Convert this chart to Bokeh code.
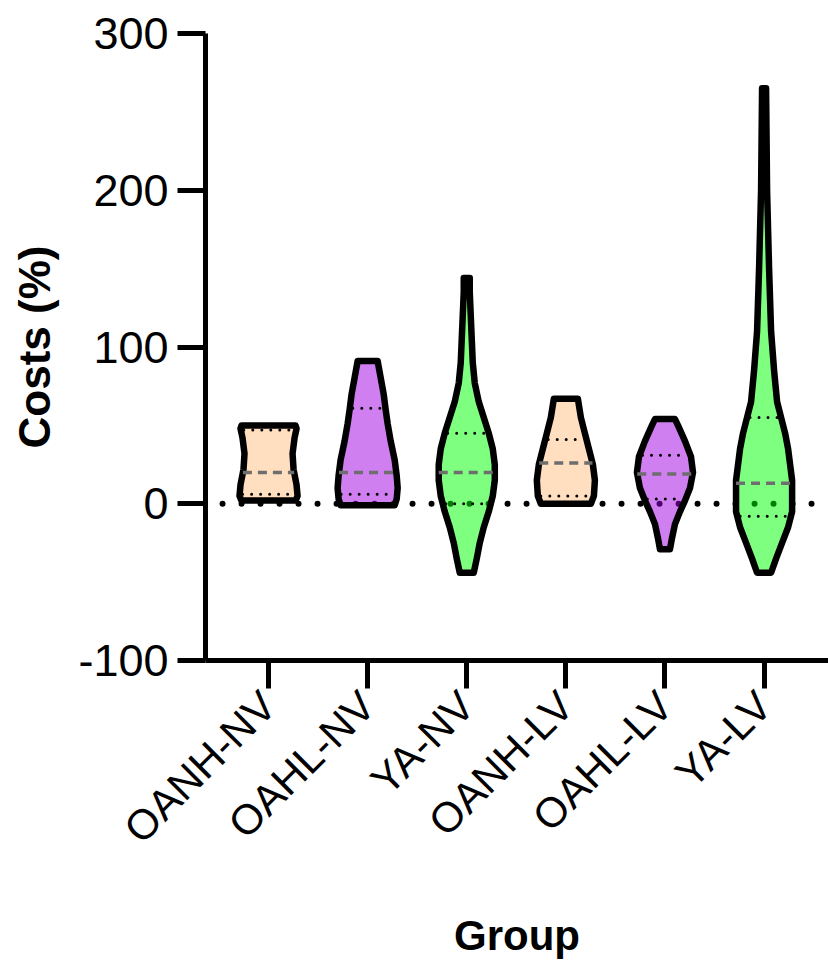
import math
import numpy as np
from bokeh.plotting import figure
from bokeh.models import Range1d, FixedTicker
from bokeh.embed import file_html
from bokeh.resources import INLINE

# ---------------- data ----------------
groups = ["OANH-NV", "OAHL-NV", "YA-NV", "OANH-LV", "OAHL-LV", "YA-LV"]
y_ticks = [-100, 0, 100, 200, 300]
y_tick_labels = ["-100", "0", "100", "200", "300"]

# violin outlines: value levels and half-widths (px of a 99px category slot)
oanh_nv_y = [2, 5, 12, 22, 32, 42, 48, 50]
oanh_nv_w = [27, 29, 28, 25, 24, 26, 28, 27]
oahl_nv_y = [-1, 3, 10, 18, 28, 40, 51, 60, 70, 77, 84, 91]
oahl_nv_w = [27, 29, 30, 29, 27, 23, 20, 18, 16, 14, 12, 10]
ya_nv_y = [-44, -35, -25, -15, -5, 5, 15, 25, 35, 45, 55, 65, 77, 90, 105, 120, 135, 144]
ya_nv_w = [7, 10, 13, 17, 22, 26, 28, 28, 26, 22, 17, 12, 8, 6, 5, 4, 3, 3]
oanh_lv_y = [0, 5, 15, 25, 35, 45, 55, 67]
oanh_lv_w = [25, 28, 29, 27, 23, 19, 15, 12]
oahl_lv_y = [-29, -22, -13, -5, 2, 10, 20, 30, 40, 50, 54]
oahl_lv_w = [5, 7, 10, 15, 20, 25, 28, 26, 20, 13, 10]
ya_lv_y = [-44, -35, -25, -15, -5, 5, 15, 25, 35, 45, 55, 65, 85, 110, 150, 200, 265]
ya_lv_w = [7, 12, 18, 24, 28, 28, 28, 26, 24, 21, 17, 13, 10, 7, 5, 3, 2]

medians = [20, 20, 20, 26, 19, 13]
q1 = [6, 6, 0, 5, 3, -8]
q3 = [47, 61, 45, 41, 31, 55]

profiles_y = [oanh_nv_y, oahl_nv_y, ya_nv_y, oanh_lv_y, oahl_lv_y, ya_lv_y]
profiles_w = [oanh_nv_w, oahl_nv_w, ya_nv_w, oanh_lv_w, oahl_lv_w, ya_lv_w]
fill_colors = ["#FFC080", "#A000E0", "#00FF00", "#FFC080", "#A000E0", "#00FF00"]

# ---------------- figure ----------------
SLOT = 99.0  # px per category
X0, X1 = 0.364, 6.65
p = figure(width=828, height=965, output_backend="svg", toolbar_location=None,
           x_range=Range1d(X0, X1), y_range=Range1d(-100, 300),
           min_border_left=205, min_border_top=33, min_border_bottom=305,
           min_border_right=0)
p.outline_line_color = None
p.xgrid.visible = False
p.ygrid.visible = False
p.background_fill_color = "white"

FONT = "Liberation Sans"
ticks_x = list(range(1, len(groups) + 1))

for ax in (p.xaxis[0], p.yaxis[0]):
    ax.axis_line_width = 5
    ax.axis_line_color = "black"
    ax.major_tick_line_width = 5
    ax.major_tick_line_color = "black"
    ax.major_tick_out = 28
    ax.major_tick_in = 0
    ax.minor_tick_line_color = None
    ax.major_label_text_font = FONT
    ax.major_label_text_font_size = "45px"
    ax.major_label_text_color = "black"
    ax.major_label_standoff = 9
    ax.axis_label_text_font = FONT
    ax.axis_label_text_font_style = "bold"
    ax.axis_label_text_color = "black"

yax = p.yaxis[0]
yax.ticker = FixedTicker(ticks=y_ticks)
yax.major_label_overrides = dict(zip(y_ticks, y_tick_labels))
yax.axis_label = "Costs (%)"
yax.axis_label_text_font_size = "44px"
yax.axis_label_standoff = 16

xax = p.xaxis[0]
xax.ticker = FixedTicker(ticks=ticks_x)
xax.major_label_overrides = {i + 1: g for i, g in enumerate(groups)}
xax.major_label_orientation = math.pi / 4
xax.major_label_text_font_size = "42px"
xax.major_label_standoff = 10
xax.axis_label = "Group"
xax.axis_label_text_font_size = "42px"
xax.axis_label_standoff = 40

# zero reference line (dotted)
p.line([0.536, X1], [0, 0], line_color="black", line_width=6,
       line_dash="0 19", line_cap="round")

# violins
for i in range(len(groups)):
    c = i + 1
    ys = np.array(profiles_y[i], dtype=float)
    ws = np.array(profiles_w[i], dtype=float) / SLOT
    xs = np.concatenate([c + ws, (c - ws)[::-1]])
    yy = np.concatenate([ys, ys[::-1]])
    p.patch(xs, yy, fill_color=fill_colors[i], fill_alpha=0.5,
            line_color="black", line_width=6.5, line_join="round")
    hw = np.interp(medians[i], ys, ws)
    p.line([c - hw, c + hw], [medians[i], medians[i]], line_color="#6E6E6E",
           line_width=3.5, line_dash="9 6")
    for q in (q1[i], q3[i]):
        hq = np.interp(q, ys, ws)
        p.line([c - hq + 0.03, c + hq - 0.03], [q, q], line_color="black",
               line_width=3, line_dash="0 9", line_cap="round")

open("out.html", "w").write(file_html(p, INLINE))
